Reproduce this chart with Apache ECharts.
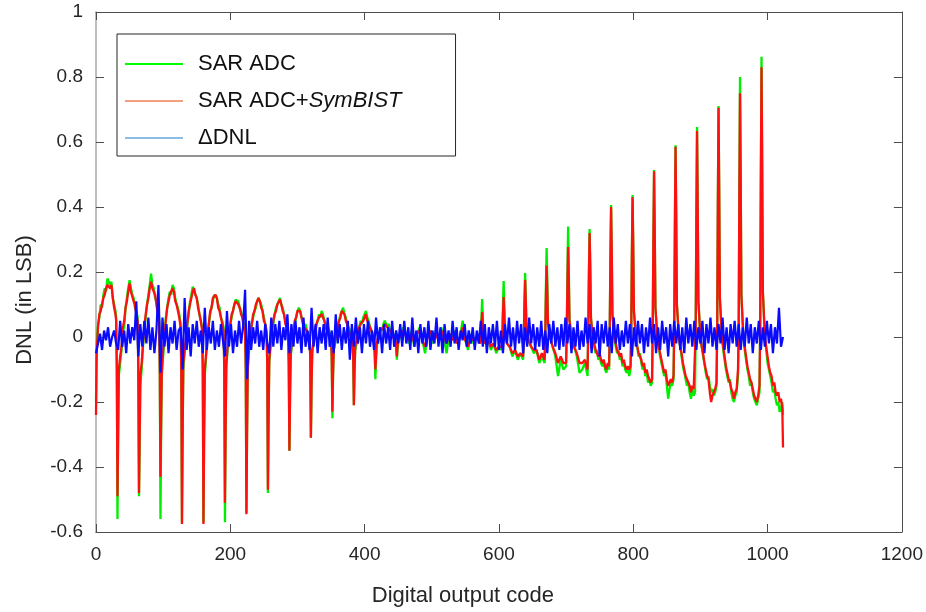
<!DOCTYPE html>
<html>
<head>
<meta charset="utf-8">
<script src="https://cdn.jsdelivr.net/npm/echarts@6/dist/echarts.min.js"></script>
<style>html,body{margin:0;padding:0;background:#fff;}#c{width:926px;height:612px;}</style>
</head>
<body>
<div id="c"></div>
<script>
const seriesNames = ['SAR ADC', 'SAR ADC+SymBIST', '\u0394DNL'];
const xTickValues = [0, 200, 400, 600, 800, 1000, 1200];
const yTickLabels = ['-0.6', '-0.4', '-0.2', '0', '0.2', '0.4', '0.6', '0.8', '1'];

// SAR ADC (green): [code, DNL]
const greenDNL = [
[0,-0.2],[1,-0.02],[3,0.04],[5,0.06],[7,0.1],[9,0.09],[11,0.13],[13,0.15],[15,0.14],[17,0.18],[19,0.185],[21,0.16],[23,0.17],[25,0.12],[27,0.1],[29,0.08],[30,0.06],[31,-0.1],
[32,-0.56],[33,-0.3],[34,-0.12],[36,-0.08],[38,-0.04],[40,0.02],[42,0.03],[44,0.09],[46,0.12],[48,0.15],[50,0.175],[52,0.15],[54,0.13],[56,0.12],[58,0.09],[60,0.08],[62,0.06],[63,-0.1],
[64,-0.49],[65,-0.35],[66,-0.15],[68,-0.1],[70,-0.03],[72,0.02],[74,0.06],[76,0.1],[78,0.13],[80,0.16],[82,0.195],[84,0.16],[86,0.15],[88,0.12],[90,0.11],[92,0.08],[94,0.06],[95,-0.1],
[96,-0.56],[97,-0.3],[98,-0.12],[100,-0.06],[102,0.0],[104,0.06],[106,0.09],[108,0.12],[110,0.14],[112,0.13],[114,0.16],[116,0.15],[118,0.12],[120,0.1],[122,0.09],[124,0.07],[126,0.04],[127,-0.1],
[128,-0.57],[129,-0.3],[130,-0.1],[132,-0.05],[134,-0.02],[136,0.04],[138,0.07],[140,0.11],[142,0.13],[144,0.155],[146,0.14],[148,0.145],[150,0.12],[152,0.1],[154,0.07],[156,0.05],[158,0.03],[159,-0.1],
[160,-0.57],[161,-0.3],[162,-0.12],[164,-0.06],[166,0.0],[168,0.04],[170,0.07],[172,0.09],[174,0.11],[176,0.13],[178,0.135],[180,0.12],[182,0.1],[184,0.09],[186,0.06],[188,0.05],[190,0.03],[191,-0.1],
[192,-0.57],[193,-0.3],[194,-0.1],[196,-0.04],[198,0.0],[200,0.04],[202,0.06],[204,0.08],[206,0.1],[208,0.115],[210,0.12],[212,0.11],[214,0.09],[216,0.08],[218,0.06],[220,0.04],[222,0.02],[223,-0.1],
[224,-0.54],[225,-0.28],[226,-0.1],[228,-0.04],[230,0.0],[232,0.04],[234,0.06],[236,0.08],[238,0.09],[240,0.11],[242,0.12],[244,0.115],[246,0.1],[248,0.08],[250,0.06],[252,0.04],[254,0.02],[255,-0.08],
[256,-0.48],[257,-0.25],[258,-0.08],[260,-0.03],[262,0.02],[264,0.04],[266,0.07],[268,0.09],[270,0.1],[272,0.11],[274,0.12],[276,0.1],[278,0.09],[280,0.07],[282,0.05],[284,0.03],[286,0.01],[287,-0.08],
[288,-0.35],[289,-0.18],[290,-0.06],[292,-0.02],[294,0.02],[296,0.04],[298,0.06],[300,0.08],[302,0.09],[304,0.08],[306,0.06],[308,0.05],[310,0.03],[312,0.04],[314,0.02],[316,0.01],[318,-0.01],[319,-0.06],
[320,-0.31],[321,-0.15],[322,-0.05],[324,-0.02],[326,0.02],[328,0.03],[330,0.05],[332,0.07],[334,0.06],[336,0.08],[338,0.07],[340,0.05],[342,0.04],[344,0.02],[346,0.03],[348,0.01],[350,-0.01],[351,-0.06],
[352,-0.25],[353,-0.12],[354,-0.04],[356,-0.02],[358,0.01],[360,0.03],[362,0.05],[364,0.07],[366,0.08],[368,0.09],[370,0.07],[372,0.06],[374,0.04],[376,0.03],[378,0.02],[380,0.0],[382,-0.02],[383,-0.06],
[384,-0.21],[385,-0.1],[386,-0.04],[388,-0.02],[390,0.01],[392,0.03],[394,0.05],[396,0.04],[398,0.06],[400,0.07],[402,0.08],[404,0.06],[406,0.05],[408,0.03],[410,0.02],[412,0.01],[414,-0.01],[415,-0.05],
[416,-0.13],[417,-0.07],[418,-0.03],[420,-0.01],[422,0.01],[424,0.03],[426,0.02],[428,0.04],[430,0.05],[432,0.04],[434,0.03],[436,0.04],[438,0.02],[440,0.01],[442,0.0],[444,0.01],[446,-0.01],[447,-0.03],
[448,-0.07],[449,-0.04],[450,-0.02],[454,0.01],[458,0.03],[462,0.0],[466,-0.02],[470,0.02],[474,-0.03],[478,0.01],[482,0.03],[486,-0.01],[490,-0.05],[494,0.01],[498,0.02],[502,-0.02],[506,0.02],[510,-0.01],[514,0.03],[518,0.0],[522,-0.05],[526,0.01],[530,-0.01],[534,0.02],[538,-0.02],[542,0.0],[546,0.05],[550,-0.01],[554,-0.04],[558,0.01],[562,-0.02],[566,0.0],[570,-0.01],
[572,-0.02],[573,0.0],[574,0.06],[575,0.117],[576,0.06],[577,0.0],[580,-0.02],[584,-0.01],[588,-0.04],[592,-0.02],[596,-0.05],[600,-0.03],[604,-0.04],
[605,0.0],[606,0.1],[607,0.172],[608,0.1],[609,0.02],[612,-0.02],[616,-0.03],[620,-0.06],[624,-0.04],[628,-0.07],[632,-0.05],[636,-0.07],
[637,0.0],[638,0.11],[639,0.197],[640,0.12],[641,0.03],[644,-0.01],[648,-0.03],[652,-0.05],[656,-0.04],[660,-0.08],[664,-0.06],[668,-0.08],
[669,0.02],[670,0.16],[671,0.274],[672,0.18],[673,0.05],[676,0.0],[680,-0.03],[684,-0.06],[688,-0.12],[692,-0.07],[696,-0.1],[700,-0.09],
[701,0.03],[702,0.2],[703,0.34],[704,0.22],[705,0.06],[708,0.0],[712,-0.03],[716,-0.06],[720,-0.11],[724,-0.1],[728,-0.08],[732,-0.12],
[733,0.03],[734,0.2],[735,0.332],[736,0.22],[737,0.06],[740,-0.01],[742,-0.03],[744,-0.05],[746,-0.04],[748,-0.07],[750,-0.06],[752,-0.08],[754,-0.09],[756,-0.07],[758,-0.1],[760,-0.11],[762,-0.09],[764,-0.1],
[765,0.03],[766,0.24],[767,0.406],[768,0.26],[769,0.07],[772,0.0],[774,-0.03],[776,-0.05],[778,-0.04],[780,-0.07],[782,-0.06],[784,-0.09],[786,-0.08],[788,-0.1],[790,-0.11],[792,-0.1],[794,-0.12],[796,-0.1],
[797,0.03],[798,0.26],[799,0.437],[800,0.28],[801,0.08],[804,0.0],[806,-0.03],[808,-0.06],[810,-0.05],[812,-0.08],[814,-0.1],[816,-0.09],[818,-0.12],[820,-0.11],[822,-0.14],[824,-0.13],[826,-0.15],[828,-0.14],
[829,0.03],[830,0.3],[831,0.514],[832,0.33],[833,0.09],[836,0.0],[838,-0.03],[840,-0.06],[842,-0.08],[844,-0.1],[846,-0.12],[848,-0.11],[850,-0.15],[852,-0.19],[854,-0.16],[856,-0.14],[858,-0.15],[860,-0.13],
[861,0.03],[862,0.34],[863,0.59],[864,0.37],[865,0.1],[868,0.0],[870,-0.03],[872,-0.06],[874,-0.09],[876,-0.11],[878,-0.13],[880,-0.15],[882,-0.14],[884,-0.17],[886,-0.19],[888,-0.16],[890,-0.18],[892,-0.17],
[893,0.03],[894,0.38],[895,0.646],[896,0.41],[897,0.11],[900,0.0],[902,-0.03],[904,-0.06],[906,-0.08],[908,-0.11],[910,-0.13],[912,-0.12],[914,-0.15],[916,-0.17],[918,-0.16],[920,-0.18],[922,-0.17],[924,-0.15],
[925,0.03],[926,0.42],[927,0.711],[928,0.45],[929,0.12],[932,0.0],[934,-0.04],[936,-0.07],[938,-0.1],[940,-0.12],[942,-0.14],[944,-0.13],[946,-0.17],[948,-0.19],[950,-0.2],[952,-0.18],[954,-0.17],[956,-0.12],
[957,0.03],[958,0.47],[959,0.8],[960,0.5],[961,0.13],[964,0.0],[966,-0.04],[968,-0.07],[970,-0.1],[972,-0.12],[974,-0.15],[976,-0.14],[978,-0.17],[980,-0.19],[982,-0.2],[984,-0.21],[986,-0.19],[988,-0.17],
[989,0.03],[990,0.5],[991,0.862],[992,0.54],[993,0.14],[996,0.0],[998,-0.04],[1000,-0.08],[1002,-0.1],[1004,-0.12],[1006,-0.14],[1008,-0.17],[1010,-0.16],[1012,-0.19],[1014,-0.21],[1016,-0.2],[1018,-0.23],[1020,-0.22],[1022,-0.2],[1023,-0.24]
];

// SAR ADC + SymBIST (red): [code, DNL]
const redDNL = [
[0,-0.24],[1,-0.05],[3,0.03],[5,0.07],[7,0.08],[9,0.1],[11,0.12],[13,0.13],[15,0.15],[17,0.16],[19,0.165],[21,0.15],[23,0.16],[25,0.12],[27,0.09],[29,0.07],[30,0.05],[31,-0.1],
[32,-0.49],[33,-0.28],[34,-0.1],[36,-0.06],[38,-0.03],[40,0.03],[42,0.05],[44,0.09],[46,0.11],[48,0.14],[50,0.165],[52,0.14],[54,0.14],[56,0.11],[58,0.1],[60,0.07],[62,0.05],[63,-0.1],
[64,-0.48],[65,-0.3],[66,-0.12],[68,-0.08],[70,-0.02],[72,0.03],[74,0.07],[76,0.1],[78,0.12],[80,0.15],[82,0.17],[84,0.15],[86,0.14],[88,0.13],[90,0.1],[92,0.07],[94,0.05],[95,-0.1],
[96,-0.43],[97,-0.25],[98,-0.1],[100,-0.04],[102,0.01],[104,0.05],[106,0.09],[108,0.11],[110,0.13],[112,0.14],[114,0.15],[116,0.14],[118,0.11],[120,0.1],[122,0.08],[124,0.06],[126,0.03],[127,-0.1],
[128,-0.575],[129,-0.3],[130,-0.08],[132,-0.04],[134,0.0],[136,0.04],[138,0.08],[140,0.1],[142,0.12],[144,0.14],[146,0.15],[148,0.13],[150,0.12],[152,0.09],[154,0.07],[156,0.05],[158,0.02],[159,-0.1],
[160,-0.575],[161,-0.3],[162,-0.1],[164,-0.05],[166,0.01],[168,0.04],[170,0.08],[172,0.09],[174,0.12],[176,0.12],[178,0.13],[180,0.12],[182,0.09],[184,0.08],[186,0.06],[188,0.04],[190,0.02],[191,-0.1],
[192,-0.51],[193,-0.28],[194,-0.08],[196,-0.03],[198,0.01],[200,0.04],[202,0.07],[204,0.08],[206,0.1],[208,0.11],[210,0.115],[212,0.1],[214,0.09],[216,0.07],[218,0.06],[220,0.03],[222,0.02],[223,-0.1],
[224,-0.545],[225,-0.28],[226,-0.09],[228,-0.03],[230,0.01],[232,0.04],[234,0.07],[236,0.08],[238,0.1],[240,0.1],[242,0.12],[244,0.11],[246,0.09],[248,0.08],[250,0.05],[252,0.04],[254,0.01],[255,-0.08],
[256,-0.47],[257,-0.24],[258,-0.07],[260,-0.02],[262,0.02],[264,0.05],[266,0.07],[268,0.08],[270,0.1],[272,0.1],[274,0.115],[276,0.1],[278,0.08],[280,0.07],[282,0.04],[284,0.03],[286,0.0],[287,-0.08],
[288,-0.35],[289,-0.17],[290,-0.05],[292,-0.01],[294,0.02],[296,0.05],[298,0.06],[300,0.08],[302,0.08],[304,0.08],[306,0.06],[308,0.04],[310,0.03],[312,0.03],[314,0.02],[316,0.0],[318,-0.01],[319,-0.06],
[320,-0.31],[321,-0.14],[322,-0.04],[324,-0.01],[326,0.02],[328,0.04],[330,0.05],[332,0.06],[334,0.06],[336,0.07],[338,0.06],[340,0.05],[342,0.03],[344,0.02],[346,0.02],[348,0.0],[350,-0.01],[351,-0.06],
[352,-0.23],[353,-0.11],[354,-0.04],[356,-0.01],[358,0.01],[360,0.03],[362,0.05],[364,0.06],[366,0.08],[368,0.08],[370,0.07],[372,0.05],[374,0.04],[376,0.02],[378,0.02],[380,0.0],[382,-0.02],[383,-0.06],
[384,-0.21],[385,-0.1],[386,-0.03],[388,-0.01],[390,0.01],[392,0.03],[394,0.04],[396,0.04],[398,0.05],[400,0.06],[402,0.07],[404,0.05],[406,0.04],[408,0.03],[410,0.02],[412,0.0],[414,-0.01],[415,-0.05],
[416,-0.1],[417,-0.06],[418,-0.02],[420,0.0],[422,0.01],[424,0.02],[426,0.02],[428,0.03],[430,0.04],[432,0.04],[434,0.03],[436,0.03],[438,0.02],[440,0.01],[442,0.0],[444,0.0],[446,-0.01],[447,-0.03],
[448,-0.06],[449,-0.03],[450,-0.01],[454,0.01],[458,0.02],[462,0.0],[466,-0.01],[470,0.01],[474,-0.02],[478,0.01],[482,0.02],[486,-0.01],[490,-0.03],[494,0.0],[498,0.02],[502,-0.01],[506,0.01],[510,-0.01],[514,0.02],[518,0.0],[522,-0.02],[526,0.01],[530,-0.01],[534,0.01],[538,-0.02],[542,0.0],[546,0.03],[550,-0.01],[554,-0.03],[558,0.0],[562,-0.01],[566,0.0],[570,-0.01],
[572,-0.02],[573,-0.01],[574,0.04],[575,0.077],[576,0.04],[577,-0.01],[580,-0.02],[584,-0.01],[588,-0.03],[592,-0.02],[596,-0.04],[600,-0.03],[604,-0.03],
[605,-0.01],[606,0.07],[607,0.123],[608,0.07],[609,0.01],[612,-0.02],[616,-0.03],[620,-0.05],[624,-0.04],[628,-0.06],[632,-0.05],[636,-0.06],
[637,-0.01],[638,0.1],[639,0.175],[640,0.11],[641,0.02],[644,-0.01],[648,-0.03],[652,-0.04],[656,-0.04],[660,-0.07],[664,-0.05],[668,-0.07],
[669,0.01],[670,0.13],[671,0.22],[672,0.14],[673,0.04],[676,0.0],[680,-0.03],[684,-0.05],[688,-0.08],[692,-0.06],[696,-0.08],[700,-0.08],
[701,0.02],[702,0.16],[703,0.277],[704,0.18],[705,0.05],[708,0.0],[712,-0.03],[716,-0.05],[720,-0.08],[724,-0.08],[728,-0.07],[732,-0.1],
[733,0.02],[734,0.19],[735,0.32],[736,0.21],[737,0.06],[740,-0.01],[742,-0.02],[744,-0.04],[746,-0.05],[748,-0.06],[750,-0.05],[752,-0.07],[754,-0.08],[756,-0.07],[758,-0.09],[760,-0.1],[762,-0.08],[764,-0.09],
[765,0.02],[766,0.24],[767,0.4],[768,0.26],[769,0.07],[772,0.0],[774,-0.02],[776,-0.04],[778,-0.04],[780,-0.06],[782,-0.05],[784,-0.08],[786,-0.07],[788,-0.09],[790,-0.1],[792,-0.09],[794,-0.1],[796,-0.09],
[797,0.02],[798,0.26],[799,0.43],[800,0.28],[801,0.08],[804,0.0],[806,-0.03],[808,-0.05],[810,-0.05],[812,-0.07],[814,-0.09],[816,-0.08],[818,-0.11],[820,-0.1],[822,-0.12],[824,-0.13],[826,-0.14],[828,-0.13],
[829,0.02],[830,0.3],[831,0.51],[832,0.33],[833,0.09],[836,0.0],[838,-0.03],[840,-0.05],[842,-0.07],[844,-0.09],[846,-0.11],[848,-0.1],[850,-0.13],[852,-0.15],[854,-0.14],[856,-0.13],[858,-0.14],[860,-0.12],
[861,0.02],[862,0.34],[863,0.585],[864,0.37],[865,0.1],[868,0.0],[870,-0.03],[872,-0.05],[874,-0.08],[876,-0.1],[878,-0.12],[880,-0.13],[882,-0.13],[884,-0.15],[886,-0.17],[888,-0.15],[890,-0.16],[892,-0.16],
[893,0.02],[894,0.37],[895,0.634],[896,0.4],[897,0.11],[900,0.0],[902,-0.03],[904,-0.05],[906,-0.08],[908,-0.1],[910,-0.12],[912,-0.13],[914,-0.17],[916,-0.2],[918,-0.18],[920,-0.17],[922,-0.16],[924,-0.14],
[925,0.02],[926,0.41],[927,0.705],[928,0.45],[929,0.12],[932,0.0],[934,-0.03],[936,-0.06],[938,-0.09],[940,-0.11],[942,-0.13],[944,-0.14],[946,-0.16],[948,-0.17],[950,-0.19],[952,-0.17],[954,-0.16],[956,-0.1],
[957,0.02],[958,0.44],[959,0.75],[960,0.48],[961,0.13],[964,0.0],[966,-0.03],[968,-0.06],[970,-0.09],[972,-0.11],[974,-0.13],[976,-0.14],[978,-0.16],[980,-0.18],[982,-0.19],[984,-0.2],[986,-0.18],[988,-0.15],
[989,0.02],[990,0.48],[991,0.83],[992,0.52],[993,0.14],[996,0.0],[998,-0.03],[1000,-0.06],[1002,-0.09],[1004,-0.11],[1006,-0.12],[1008,-0.15],[1010,-0.14],[1012,-0.17],[1014,-0.18],[1016,-0.17],[1018,-0.2],[1020,-0.19],[1022,-0.22],[1023,-0.34]
];

// Delta DNL (blue), sampled every 3 codes starting at code 0
const blueCodeStep = 3;
const blueDNL = [
-0.05,-0.02,0.01,-0.04,0.02,-0.01,0.03,-0.03,0.0,0.02,-0.02,
-0.04,0.05,-0.03,0.02,-0.05,0.04,-0.02,0.03,-0.01,0.11,-0.06,
0.04,-0.03,0.05,-0.02,0.06,-0.04,0.03,-0.05,0.02,0.16,-0.11,
0.06,-0.03,0.04,-0.05,0.03,-0.02,0.05,-0.04,0.02,0.03,-0.1,
0.12,-0.04,0.03,-0.06,0.04,-0.02,0.05,-0.03,0.02,-0.05,0.09,
-0.04,0.03,-0.02,0.05,-0.04,0.02,-0.03,0.04,-0.01,-0.06,0.08,
-0.03,0.04,-0.05,0.02,-0.03,0.05,-0.02,0.03,0.145,-0.13,0.05,
-0.04,0.03,-0.02,0.05,-0.03,0.02,-0.04,0.04,-0.02,-0.05,0.06,
-0.03,0.04,-0.02,0.05,-0.04,0.03,-0.01,0.07,-0.05,0.04,-0.03,
0.05,-0.02,0.03,-0.05,0.06,-0.03,0.02,-0.04,0.09,-0.03,0.04,
-0.05,0.03,-0.02,0.04,-0.04,0.06,-0.03,0.02,-0.05,0.07,-0.02,
0.04,-0.04,0.03,-0.02,0.05,-0.07,0.04,-0.03,0.06,-0.02,0.03,
-0.05,0.04,-0.02,0.05,-0.03,0.02,-0.04,0.06,-0.02,0.03,-0.05,
0.04,-0.02,0.03,-0.04,0.05,-0.03,0.02,-0.02,0.04,-0.03,0.05,
-0.02,0.03,-0.04,0.06,-0.03,0.02,-0.05,0.04,-0.02,0.03,-0.03,
0.05,-0.04,0.02,-0.02,0.06,-0.03,0.03,-0.05,0.04,-0.02,0.02,
-0.03,0.05,-0.02,0.03,-0.04,0.02,-0.01,0.04,-0.03,0.02,-0.02,
0.03,-0.04,0.02,-0.02,0.05,-0.03,0.04,-0.05,0.03,-0.02,0.04,
-0.03,0.05,-0.04,0.02,-0.05,0.04,-0.02,0.06,-0.03,0.03,-0.04,
0.05,-0.02,0.04,-0.05,0.03,-0.03,0.06,-0.02,0.04,-0.04,0.03,
-0.03,0.05,-0.04,0.02,-0.05,0.04,-0.02,0.05,-0.03,0.03,-0.04,
0.04,-0.03,0.06,-0.02,0.04,-0.05,0.03,-0.03,0.05,-0.04,0.02,
-0.03,0.06,-0.02,0.04,-0.05,0.03,-0.02,0.05,-0.06,0.04,-0.02,
0.05,-0.03,0.03,-0.05,0.06,-0.02,0.04,-0.04,0.02,-0.03,0.05,
-0.02,0.04,-0.06,0.03,-0.03,0.05,-0.02,0.04,-0.05,0.03,-0.03,
0.06,-0.02,0.04,-0.05,0.03,-0.04,0.05,-0.02,0.03,-0.06,0.04,
-0.03,0.05,-0.02,0.04,-0.04,0.03,-0.05,0.06,-0.02,0.04,-0.03,
0.05,-0.04,0.03,-0.02,0.05,-0.05,0.04,-0.02,0.06,-0.03,0.03,
-0.04,0.04,-0.02,0.06,-0.04,0.03,-0.05,0.04,-0.02,0.05,-0.03,
0.04,-0.04,0.03,-0.03,0.06,-0.02,0.04,-0.05,0.03,-0.02,0.05,
-0.04,0.03,-0.03,0.05,-0.02,0.04,-0.05,0.03,-0.02,0.09,-0.03,
0.0
];

const FONT = '"Liberation Sans", Arial, Helvetica, sans-serif';
const AX = '#4d4d4d';
const bluePairs = blueDNL.map((v, i) => [i * blueCodeStep, v]);

const chart = echarts.init(document.getElementById('c'), null, {renderer: 'canvas'});
const yFmt = v => { const k = Math.round((v + 0.6) / 0.2); return yTickLabels[k] !== undefined ? yTickLabels[k] : ''; };
const xFmt = v => String(Math.round(v));

chart.setOption({
  animation: false,
  backgroundColor: '#fff',
  grid: {left: 96, right: 23, top: 12, bottom: 80, containLabel: false},
  legend: {
    orient: 'vertical', left: 117, top: 34,
    padding: [18, 54, 6, 8],
    icon: 'rect',
    itemWidth: 58, itemHeight: 2, itemGap: 13,
    borderColor: '#262626', borderWidth: 1, backgroundColor: '#fff',
    selectedMode: false,
    textStyle: {fontFamily: FONT, fontSize: 22, color: '#111', padding: [0, 0, 0, 10], lineHeight: 24,
      rich: {n: {fontFamily: FONT, fontSize: 22, color: '#111', lineHeight: 24}, i: {fontFamily: FONT, fontSize: 22, fontStyle: 'italic', color: '#111', lineHeight: 24}}},
    formatter: name => name === seriesNames[1] ? '{n|SAR ADC+}{i|SymBIST}' : name,
    data: [
      {name: seriesNames[0], icon: 'rect', itemStyle: {color: '#00ff00'}},
      {name: seriesNames[1], icon: 'rect', itemStyle: {color: '#f2a07e'}},
      {name: seriesNames[2], icon: 'rect', itemStyle: {color: '#8cbde3'}}
    ]
  },
  xAxis: [{
    type: 'value', position: 'bottom', min: xTickValues[0], max: xTickValues[xTickValues.length - 1], interval: 200,
    axisLine: {show: true, onZero: false, lineStyle: {color: AX, width: 1}},
    axisTick: {show: true, inside: true, length: 8, lineStyle: {color: AX}},
    axisLabel: {fontFamily: FONT, fontSize: 19, color: '#262626', margin: 13, formatter: xFmt},
    splitLine: {show: false},
    name: 'Digital output code', nameLocation: 'middle', nameGap: 53,
    nameTextStyle: {fontFamily: FONT, fontSize: 22, color: '#262626', padding: [0, 72, 0, 0]}
  }, {
    type: 'value', position: 'top', min: 0, max: 1200, interval: 200,
    axisLine: {show: true, onZero: false, lineStyle: {color: AX, width: 1}},
    axisTick: {show: true, inside: true, length: 8, lineStyle: {color: AX}},
    axisLabel: {show: false}, splitLine: {show: false}
  }],
  yAxis: [{
    type: 'value', position: 'left', min: -0.6, max: 1, interval: 0.2,
    axisLine: {show: true, onZero: false, lineStyle: {color: '#a8a8a8', width: 1.5}},
    axisTick: {show: true, inside: true, length: 8, lineStyle: {color: AX}},
    axisLabel: {fontFamily: FONT, fontSize: 19, color: '#262626', margin: 13, formatter: yFmt},
    splitLine: {show: false},
    name: 'DNL (in LSB)', nameLocation: 'middle', nameGap: 60,
    nameTextStyle: {fontFamily: FONT, fontSize: 22, color: '#262626', padding: [0, 56, 0, 0]}
  }, {
    type: 'value', position: 'right', min: -0.6, max: 1, interval: 0.2,
    axisLine: {show: true, onZero: false, lineStyle: {color: AX, width: 1}},
    axisTick: {show: true, inside: true, length: 8, lineStyle: {color: AX}},
    axisLabel: {show: false}, splitLine: {show: false}
  }],
  series: [
    {name: seriesNames[0], type: 'line', data: greenDNL, symbol: 'none', showSymbol: false,
     lineStyle: {color: '#00ee00', width: 2.3}, itemStyle: {color: '#00ee00'}, z: 2},
    {name: seriesNames[1], type: 'line', data: redDNL, symbol: 'none', showSymbol: false,
     lineStyle: {color: '#ff1010', width: 2.3}, itemStyle: {color: '#ff1010'}, z: 3},
    {name: seriesNames[2], type: 'line', data: bluePairs, symbol: 'none', showSymbol: false,
     lineStyle: {color: '#0a0aff', width: 2.2}, itemStyle: {color: '#0a0aff'}, z: 4}
  ]
});
</script>
</body>
</html>
